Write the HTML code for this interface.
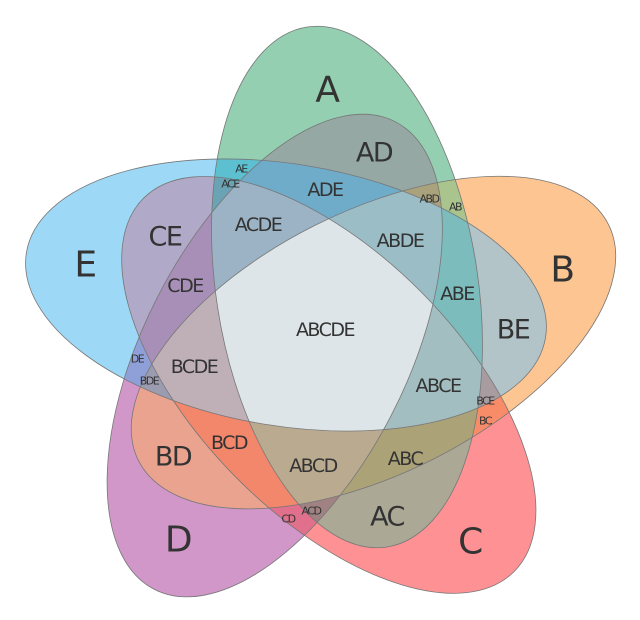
<!DOCTYPE html>
<html><head><meta charset="utf-8"><style>
html,body{margin:0;padding:0;background:#fff;overflow:hidden;width:640px;height:620px;}
svg{display:block;}
text{font-family:"DejaVu Sans","Liberation Sans",sans-serif;fill:#333;text-anchor:middle;dominant-baseline:central;letter-spacing:-1.5px;}
</style></head><body>
<svg width="640" height="620" viewBox="0 0 640 620" xmlns="http://www.w3.org/2000/svg">
<defs>
<ellipse id="el" cx="347" cy="287" rx="131" ry="263" transform="rotate(-8.7 347 287)"/>
<clipPath id="cA"><use href="#el"/></clipPath>
<clipPath id="cB"><use href="#el" transform="rotate(72 322 333)"/></clipPath>
<clipPath id="cC"><use href="#el" transform="rotate(144 322 333)"/></clipPath>
<clipPath id="cD"><use href="#el" transform="rotate(216 322 333)"/></clipPath>
<clipPath id="cE"><use href="#el" transform="rotate(288 322 333)"/></clipPath>
<rect id="r" width="640" height="620"/>
</defs>
<use href="#el" fill="#93cfb0"/>
<use href="#el" fill="#fdc592" transform="rotate(72 322 333)"/>
<use href="#el" fill="#fe9193" transform="rotate(144 322 333)"/>
<use href="#el" fill="#d197c8" transform="rotate(216 322 333)"/>
<use href="#el" fill="#9dd8f6" transform="rotate(288 322 333)"/>
<g clip-path="url(#cA)"><use href="#r" clip-path="url(#cB)" fill="#aac48e"/></g>
<g clip-path="url(#cA)"><use href="#r" clip-path="url(#cC)" fill="#aba896"/></g>
<g clip-path="url(#cA)"><use href="#r" clip-path="url(#cD)" fill="#95a8a4"/></g>
<g clip-path="url(#cA)"><use href="#r" clip-path="url(#cE)" fill="#5cc0d0"/></g>
<g clip-path="url(#cB)"><use href="#r" clip-path="url(#cC)" fill="#f98c68"/></g>
<g clip-path="url(#cB)"><use href="#r" clip-path="url(#cD)" fill="#eaa38e"/></g>
<g clip-path="url(#cB)"><use href="#r" clip-path="url(#cE)" fill="#b3c4c8"/></g>
<g clip-path="url(#cC)"><use href="#r" clip-path="url(#cD)" fill="#e0708c"/></g>
<g clip-path="url(#cC)"><use href="#r" clip-path="url(#cE)" fill="#b0aac8"/></g>
<g clip-path="url(#cD)"><use href="#r" clip-path="url(#cE)" fill="#8fa0d8"/></g>
<g clip-path="url(#cA)"><g clip-path="url(#cB)"><use href="#r" clip-path="url(#cC)" fill="#aca278"/></g></g>
<g clip-path="url(#cA)"><g clip-path="url(#cB)"><use href="#r" clip-path="url(#cD)" fill="#a9a27c"/></g></g>
<g clip-path="url(#cA)"><g clip-path="url(#cB)"><use href="#r" clip-path="url(#cE)" fill="#7cbcbc"/></g></g>
<g clip-path="url(#cA)"><g clip-path="url(#cC)"><use href="#r" clip-path="url(#cD)" fill="#a08282"/></g></g>
<g clip-path="url(#cA)"><g clip-path="url(#cC)"><use href="#r" clip-path="url(#cE)" fill="#6aa4b4"/></g></g>
<g clip-path="url(#cA)"><g clip-path="url(#cD)"><use href="#r" clip-path="url(#cE)" fill="#6facca"/></g></g>
<g clip-path="url(#cB)"><g clip-path="url(#cC)"><use href="#r" clip-path="url(#cD)" fill="#f2876c"/></g></g>
<g clip-path="url(#cB)"><g clip-path="url(#cC)"><use href="#r" clip-path="url(#cE)" fill="#a89ca0"/></g></g>
<g clip-path="url(#cB)"><g clip-path="url(#cD)"><use href="#r" clip-path="url(#cE)" fill="#9b9cb0"/></g></g>
<g clip-path="url(#cC)"><g clip-path="url(#cD)"><use href="#r" clip-path="url(#cE)" fill="#a88fb8"/></g></g>
<g clip-path="url(#cA)"><g clip-path="url(#cB)"><g clip-path="url(#cC)"><use href="#r" clip-path="url(#cD)" fill="#baab90"/></g></g></g>
<g clip-path="url(#cA)"><g clip-path="url(#cB)"><g clip-path="url(#cC)"><use href="#r" clip-path="url(#cE)" fill="#a2bec0"/></g></g></g>
<g clip-path="url(#cA)"><g clip-path="url(#cB)"><g clip-path="url(#cD)"><use href="#r" clip-path="url(#cE)" fill="#9bbdc6"/></g></g></g>
<g clip-path="url(#cA)"><g clip-path="url(#cC)"><g clip-path="url(#cD)"><use href="#r" clip-path="url(#cE)" fill="#9bb3c4"/></g></g></g>
<g clip-path="url(#cB)"><g clip-path="url(#cC)"><g clip-path="url(#cD)"><use href="#r" clip-path="url(#cE)" fill="#bfb0b8"/></g></g></g>
<g clip-path="url(#cA)"><g clip-path="url(#cB)"><g clip-path="url(#cC)"><g clip-path="url(#cD)"><use href="#r" clip-path="url(#cE)" fill="#dde5e8"/></g></g></g></g>
<g stroke="#777" stroke-width="0.8" fill="none">
<use href="#el"/>
<use href="#el" transform="rotate(72 322 333)"/>
<use href="#el" transform="rotate(144 322 333)"/>
<use href="#el" transform="rotate(216 322 333)"/>
<use href="#el" transform="rotate(288 322 333)"/>
</g>
<g font-size="36">
<text x="327" y="90">A</text>
<text x="562" y="270">B</text>
<text x="470" y="542">C</text>
<text x="178" y="540">D</text>
<text x="85" y="265">E</text>
</g>
<g font-size="27">
<text x="374" y="153">AD</text>
<text x="513" y="330">BE</text>
<text x="387" y="517">AC</text>
<text x="173" y="457">BD</text>
<text x="165" y="237">CE</text>
</g>
<g font-size="19">
<text x="325" y="190">ADE</text>
<text x="258" y="225">ACDE</text>
<text x="400" y="241">ABDE</text>
<text x="457" y="294">ABE</text>
<text x="325" y="330">ABCDE</text>
<text x="185" y="286">CDE</text>
<text x="194" y="367">BCDE</text>
<text x="438" y="386">ABCE</text>
<text x="405" y="459">ABC</text>
<text x="229" y="443">BCD</text>
<text x="313" y="466">ABCD</text>
</g>
<g font-size="11">
<text x="241" y="169">AE</text>
<text x="230" y="184">ACE</text>
<text x="429" y="199">ABD</text>
<text x="455" y="207">AB</text>
<text x="137" y="359">DE</text>
<text x="149" y="381">BDE</text>
<text x="485" y="401">BCE</text>
<text x="485" y="421">BC</text>
<text x="288" y="519">CD</text>
<text x="311" y="511">ACD</text>
</g>
</svg>
</body></html>
